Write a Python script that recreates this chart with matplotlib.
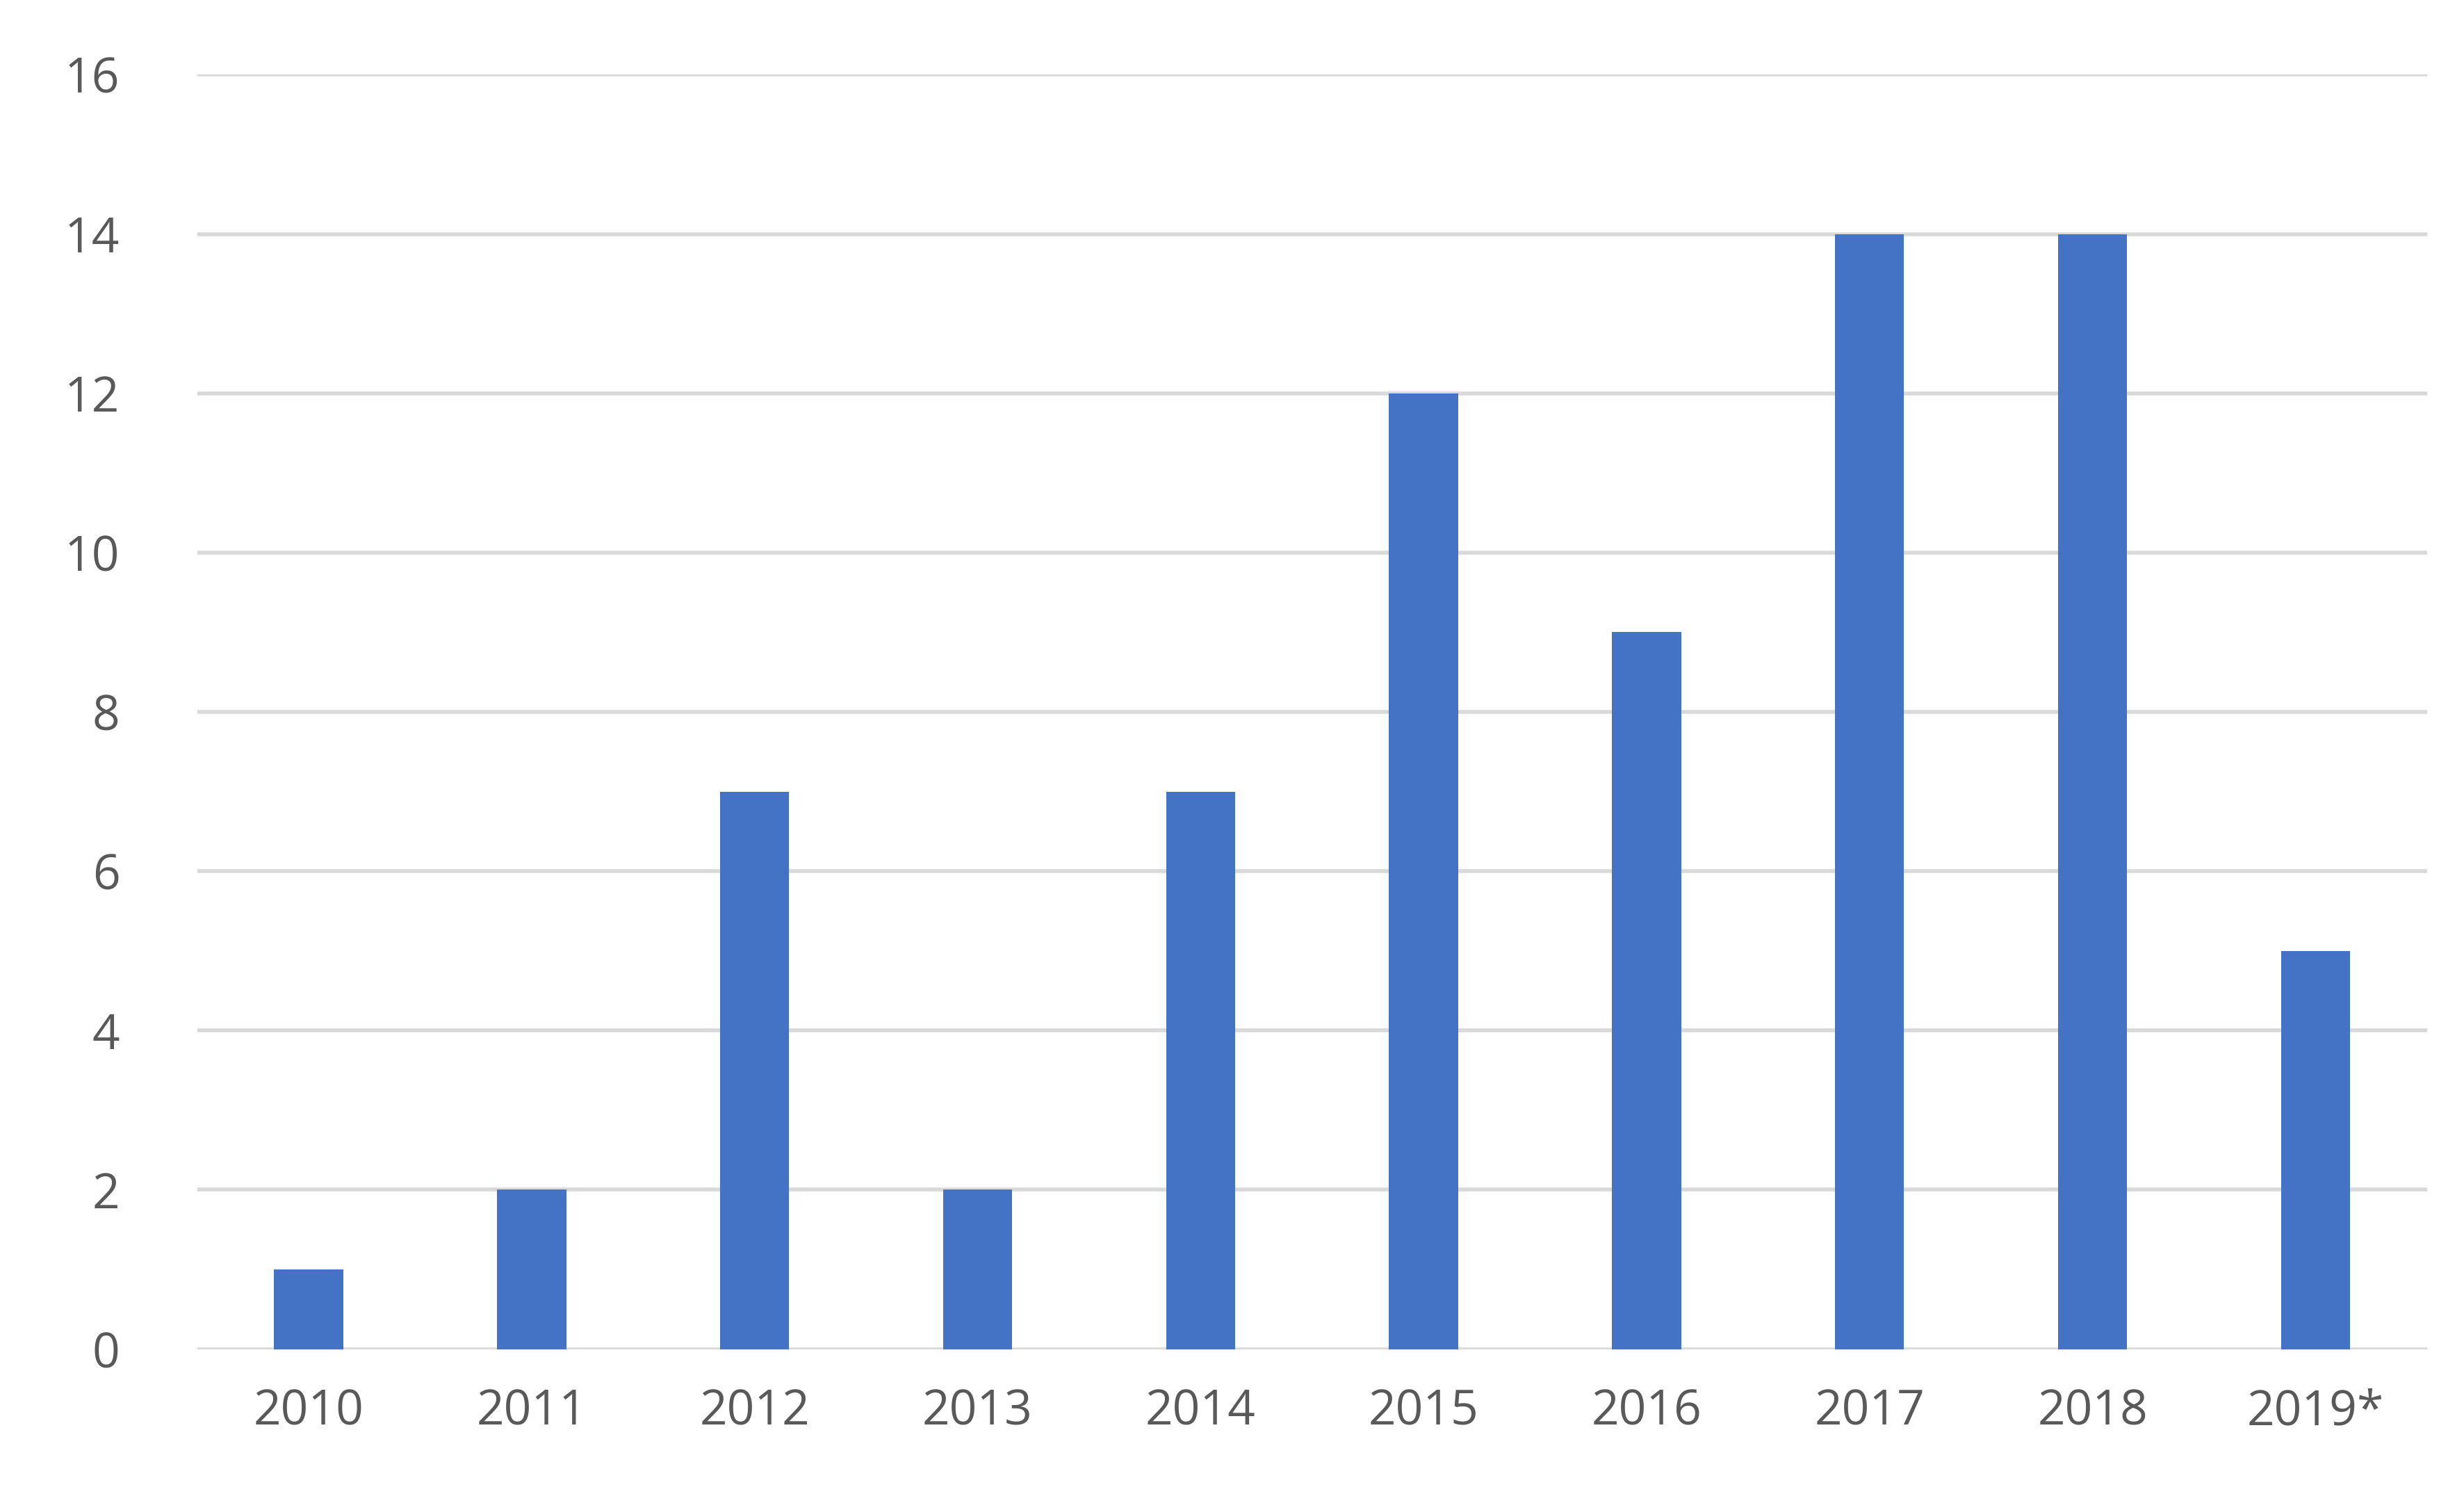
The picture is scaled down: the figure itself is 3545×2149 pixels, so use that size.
import matplotlib
matplotlib.use("Agg")
import matplotlib.pyplot as plt

years = ["2010", "2011", "2012", "2013", "2014", "2015", "2016", "2017", "2018", "2019*"]
counts = [1, 2, 7, 2, 7, 12, 9, 14, 14, 5]

plt.rcParams['font.family'] = ['Open Sans', 'DejaVu Sans']
fig = plt.figure(figsize=(35.45, 21.49), dpi=100)
ax = fig.add_axes([0.080, 0.097, 0.905, 0.853])

x = range(len(years))
ax.bar(x, counts, width=0.31, color='#4472C4', zorder=3)
ax.set_xlim(-0.5, len(years) - 0.5)
ax.set_ylim(0, 16)
ax.set_yticks(range(0, 17, 2))
ax.set_xticks(list(x))
ax.set_xticklabels(years)
ax.grid(axis='y', color='#d9d9d9', linewidth=4, zorder=0)
for s in ax.spines.values():
    s.set_visible(False)
ax.tick_params(length=0, labelsize=50, labelcolor='#595959')
ax.tick_params(axis='x', pad=40)
ax.tick_params(axis='y', pad=80)

fig.savefig("out.png", dpi=100)
